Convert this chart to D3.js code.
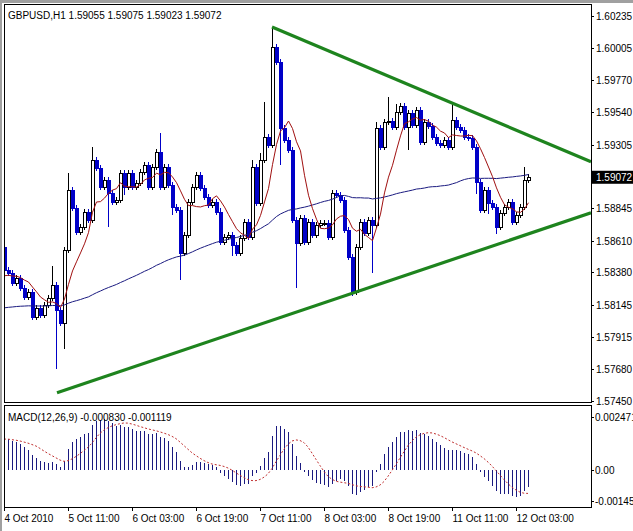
<!DOCTYPE html>
<html><head><meta charset="utf-8">
<script src="https://cdn.jsdelivr.net/npm/d3@7"></script>
<style>body{margin:0;background:#fff}svg{display:block}text{font-family:"Liberation Sans",Arial,sans-serif}</style>
</head><body><svg id="c" width="633" height="531"></svg>
<script>
const symbolTitle = "GBPUSD,H1  1.59055 1.59075 1.59023 1.59072";
const firstOpen = 1.58565;
const closes = [
1.58399,1.58377,1.58305,1.58341,1.58269,1.58204,1.58240,1.58059,1.58124,1.58074,
1.58146,1.58196,1.58290,1.58110,1.58016,1.58544,1.58977,1.58847,1.58674,1.58710,
1.58818,1.58760,1.59194,1.59136,1.58999,1.59050,1.58956,1.58891,1.58905,1.59100,
1.58999,1.59100,1.58999,1.59028,1.59107,1.59158,1.58999,1.59144,1.59252,1.58999,
1.59144,1.59013,1.58854,1.58833,1.58522,1.58652,1.58891,1.58999,1.59086,1.58992,
1.58927,1.58869,1.58891,1.58818,1.58601,1.58638,1.58652,1.58580,1.58522,1.58630,
1.58746,1.58638,1.59144,1.58883,1.59194,1.59361,1.59303,1.60011,1.59903,1.59426,
1.59339,1.59266,1.58760,1.58594,1.58775,1.58601,1.58746,1.58652,1.58724,1.58739,
1.58739,1.58638,1.58956,1.58941,1.58905,1.58688,1.58493,1.58240,1.58565,1.58746,
1.58666,1.58760,1.58724,1.59426,1.59288,1.59469,1.59476,1.59433,1.59541,1.59585,
1.59433,1.59534,1.59447,1.59556,1.59324,1.59469,1.59440,1.59361,1.59317,1.59303,
1.59339,1.59288,1.59483,1.59433,1.59411,1.59361,1.59353,1.59288,1.59035,1.58833,
1.58977,1.58883,1.58854,1.58710,1.58811,1.58854,1.58891,1.58746,1.58797,1.58854,
1.59050,1.59072];
const wickUpPips = [
2,2,2,2,2,2,2,2,2,2, 2,2,14,2,2,2,12,2,2,2,
2,2,9,2,2,2,2,2,2,2, 2,2,2,2,2,2,2,2,2,14,
2,2,2,2,2,2,2,2,2,2, 2,2,2,2,3,2,2,2,2,2,
2,2,5,2,5,25,2,14,2,2, 2,2,2,2,2,2,2,2,2,2,
2,2,2,2,2,2,2,2,2,2, 2,2,2,4,2,2,17,2,6,2,
2,2,2,2,2,2,2,2,2,2, 2,2,13,2,2,2,2,2,2,2,
2,2,2,2,2,2,2,2,2,2, 9,2];
const wickDownPips = [
2,2,2,2,2,2,2,2,2,2, 2,2,2,43,2,19,2,2,2,2,
2,2,2,2,2,2,25,2,2,2, 6,2,2,2,2,2,2,2,2,2,
2,2,6,2,20,2,2,2,2,2, 2,2,2,2,2,2,2,8,2,2,
2,2,2,2,2,2,2,2,2,27, 2,2,2,33,2,2,2,2,2,2,
2,2,2,2,2,2,2,3,2,2, 2,2,35,2,2,2,2,2,2,2,
2,17,2,2,2,2,2,2,2,2, 2,2,2,2,2,2,2,2,9,2,
2,8,2,5,2,2,2,2,2,2, 2,2];
const priceTicks = [1.60235,1.60005,1.59770,1.59540,1.59305,1.59072,1.58845,1.58610,1.58380,1.58145,1.57915,1.57680,1.57450];
const timeLabels = ["4 Oct 2010","5 Oct 11:00","6 Oct 03:00","6 Oct 19:00","7 Oct 11:00","8 Oct 03:00","8 Oct 19:00","11 Oct 11:00","12 Oct 03:00"];
const timeLabelIdx = [0,16,32,48,64,80,96,112,128];
const trendUpper = [[67,1.60156],[146.75,1.59180]];
const trendLower = [[13.25,1.57510],[146.75,1.58811]];
const maSeed = 1.5812;
const macdTicks = [0.002471,0,-0.00145];
const macdTickLabels = ["0.002471","0.00","-0.00145"];
const macdTitle = "MACD(12,26,9) -0.000830 -0.001119";

const svg = d3.select("#c");
const L=4,R=591,T=4,B=402,MT=405,MB=507;
const x = d3.scaleLinear().domain([0,146.75]).range([L,R]);
const y = d3.scaleLinear().domain([1.57450,1.60235]).range([401,16]);
const n = closes.length;
const bars = closes.map((c,i)=>{const o=i?closes[i-1]:firstOpen;return {i,o,c,h:Math.max(o,c)+wickUpPips[i]*1e-4,l:Math.min(o,c)-wickDownPips[i]*1e-4};});

svg.append("rect").attr("x",0).attr("y",0).attr("width",633).attr("height",531).attr("fill","#fff");
svg.append("rect").attr("x",0).attr("y",0).attr("width",633).attr("height",3).attr("fill","#a0a0a0");
svg.append("rect").attr("x",0).attr("y",0).attr("width",2).attr("height",531).attr("fill","#a0a0a0");
svg.append("clipPath").attr("id","cm").append("rect").attr("x",L).attr("y",T).attr("width",R-L).attr("height",B-T);
const g = svg.append("g").attr("clip-path","url(#cm)").attr("shape-rendering","crispEdges");

function sma(p,seed){return closes.map((c,i)=>{let s=0;for(let k=i-p+1;k<=i;k++)s+=k>=0?closes[k]:seed;return s/p;});}
const maFast = sma(8,1.5835), maSlow = sma(70,maSeed);
const line = d3.line().x((d,i)=>Math.round(x(i))+0.5).y(d=>y(d));
svg.append("g").attr("clip-path","url(#cm)").call(s=>{
 s.append("path").attr("d",line(maSlow)).attr("fill","none").attr("stroke","#1a1a80").attr("stroke-width",1);
 s.append("path").attr("d",line(maFast)).attr("fill","none").attr("stroke","#a01010").attr("stroke-width",1);
});

bars.forEach(b=>{
 const cx=Math.round(x(b.i))+0.5, bull=b.c>=b.o, col=bull?"#000":"#0000c8";
 g.append("line").attr("x1",cx).attr("x2",cx).attr("y1",y(b.h)).attr("y2",y(b.l)).attr("stroke",col);
 const y1=Math.round(y(Math.max(b.o,b.c))), y2=Math.round(y(Math.min(b.o,b.c)));
 g.append("rect").attr("x",cx-1.5).attr("y",y1+0.5).attr("width",3).attr("height",Math.max(1,y2-y1)).attr("fill",bull?"#fff":"#0000c8").attr("stroke",col);
});

[trendUpper,trendLower].forEach(t=>svg.append("line").attr("clip-path","url(#cm)")
 .attr("x1",x(t[0][0])).attr("y1",y(t[0][1])).attr("x2",x(t[1][0])).attr("y2",y(t[1][1]))
 .attr("stroke","#1e841e").attr("stroke-width",3.2));

svg.append("text").attr("x",8).attr("y",19).attr("font-size",10).text(symbolTitle);

priceTicks.forEach(p=>{
 svg.append("line").attr("x1",R).attr("x2",R+3).attr("y1",Math.round(y(p))+0.5).attr("y2",Math.round(y(p))+0.5).attr("stroke","#000");
 svg.append("text").attr("x",R+5).attr("y",y(p)+4).attr("font-size",10).text(p.toFixed(5));
});
const last=closes[n-1];
svg.append("rect").attr("x",R).attr("y",y(last)-6).attr("width",42).attr("height",13).attr("fill","#000");
svg.append("text").attr("x",R+5).attr("y",y(last)+4).attr("font-size",10).attr("fill","#fff").text(last.toFixed(5));

function ema(arr,p,seed){const k=2/(p+1);let e=seed;return arr.map(v=>(e=v*k+e*(1-k)));}
const e12=ema(closes,12,1.5822), e26=ema(closes,26,1.5808);
const macd=e12.map((v,i)=>v-e26[i]);
const signal=macd.map((v,i)=>{let s=0,c=0;for(let k=Math.max(0,i-8);k<=i;k++){s+=macd[k];c++;}return s/c;});
const ym=d3.scaleLinear().domain([-0.00173,0.00303]).range([MB,MT]);
svg.append("clipPath").attr("id","cd").append("rect").attr("x",L).attr("y",MT).attr("width",R-L).attr("height",MB-MT);
const gm=svg.append("g").attr("clip-path","url(#cd)").attr("shape-rendering","crispEdges");
macd.forEach((v,i)=>{const cx=Math.round(x(i))+0.5;gm.append("line").attr("x1",cx).attr("x2",cx).attr("y1",ym(0)).attr("y2",ym(v)).attr("stroke","#1a1a80");});
svg.append("path").attr("clip-path","url(#cd)").attr("d",d3.line().x((d,i)=>x(i)).y(d=>ym(d))(signal)).attr("fill","none").attr("stroke","#c03030").attr("stroke-dasharray","2,2");
svg.append("text").attr("x",8).attr("y",421).attr("font-size",10).text(macdTitle);
macdTicks.forEach((v,i)=>{
 svg.append("line").attr("x1",R).attr("x2",R+3).attr("y1",Math.round(ym(v))+0.5).attr("y2",Math.round(ym(v))+0.5).attr("stroke","#000");
 svg.append("text").attr("x",R+4).attr("y",ym(v)+4).attr("font-size",10).text(macdTickLabels[i]);
});

svg.append("rect").attr("x",L+0.5).attr("y",T+0.5).attr("width",R-L).attr("height",B-T).attr("fill","none").attr("stroke","#000");
svg.append("rect").attr("x",L+0.5).attr("y",MT+0.5).attr("width",R-L).attr("height",MB-MT).attr("fill","none").attr("stroke","#000");

timeLabelIdx.forEach((ix,k)=>{
 const tx=Math.round(x(ix))+0.5;
 svg.append("line").attr("x1",tx).attr("x2",tx).attr("y1",MB).attr("y2",MB+4).attr("stroke","#000");
 svg.append("text").attr("x",tx).attr("y",522).attr("font-size",10).text(timeLabels[k]);
});
</script></body></html>
